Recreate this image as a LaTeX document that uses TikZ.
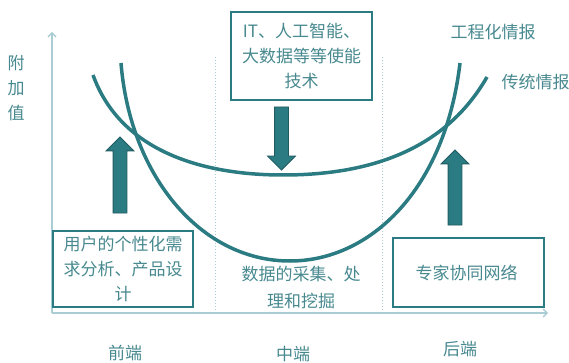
\documentclass[tikz,border=0pt]{standalone}
\usepackage{fontspec}
\setmainfont{Noto Sans CJK SC}
\usetikzlibrary{shapes.arrows,arrows.meta}
\definecolor{curveteal}{HTML}{2B7B82}
\definecolor{textteal}{HTML}{47898F}
\definecolor{axisteal}{HTML}{A9CDD2}
\def\cnfont{\fontsize{17}{25}\selectfont}

\begin{document}
\begin{tikzpicture}[x=1pt,y=-1pt,
		box/.style={draw=curveteal,line width=1.4pt,text=textteal,align=center,font=\cnfont,inner sep=0pt},
		lbl/.style={text=textteal,align=center,font=\cnfont},
		curve/.style={curveteal,line width=3.5pt},
		axis/.style={axisteal,line width=1.3pt,-{Straight Barb[length=4pt,width=8pt]}},
		divider/.style={axisteal,line width=1pt,dotted},
		blockarrow/.style={single arrow,draw=curveteal!75!black,fill=curveteal,line width=0.8pt,
			inner sep=6.5pt,outer sep=0pt,minimum width=27pt,single arrow head extend=7pt,anchor=tail}]
	\useasboundingbox (0,0) rectangle (569,363);

	% axes
	\coordinate (O) at (52,313);
	\coordinate (ytop) at (52,32);
	\coordinate (xend) at (548,313);
	\draw[axis] (O) -- (ytop);
	\draw[axis] (O) -- (xend);
	\node[lbl] (yl) at (16,88) {附\\加\\值};

	% stages
	\coordinate (d1top) at (215,57);
	\coordinate (d1bot) at (215,313);
	\coordinate (d2top) at (382,57);
	\coordinate (d2bot) at (382,313);
	\draw[divider] (d1top) -- (d1bot);
	\draw[divider] (d2top) -- (d2bot);
	\node[lbl] (front) at (125,353) {前端};
	\node[lbl] (middle) at (293,354) {中端};
	\node[lbl] (back) at (460,349) {后端};

	% traditional curve
	\coordinate (tA) at (93,75);
	\coordinate (tM) at (283,175);
	\coordinate (tB) at (487,77);
	\draw[curve] (tA) .. controls (120,150) and (200,175) .. (tM)
		.. controls (370,175) and (445,150) .. (tB);
	\node[lbl,anchor=west] (trad) at (498,82) {传统情报};

	% engineered curve
	\coordinate (eA) at (121,63);
	\coordinate (eM) at (290,261);
	\coordinate (eB) at (460,63);
	\draw[curve] (eA) .. controls (130,175) and (200,261) .. (eM)
		.. controls (370,261) and (445,190) .. (eB);
	\node[lbl] (eng) at (493,32) {工程化情报};

	% boxes
	\node[box,minimum width=141pt,minimum height=88pt] (tech) at (301.5,56) {
		IT、人工智能、\\
		大数据等等使能\\
		技术
	};
	\node[box,minimum width=140pt,minimum height=76pt] (user) at (123,269) {
		用户的个性化需\\
		求分析、产品设\\
		计
	};
	\node[box,minimum width=151pt,minimum height=69pt] (expert) at (468.5,272.5) {
		专家协同网络
	};
	\node[lbl,font=\fontsize{17}{27}\selectfont] (data) at (301,288) {
		数据的采集、处\\
		理和挖掘
	};

	% block arrows
	\node[blockarrow,rotate=90,minimum height=76pt] (upleft) at (120,213) {};
	\node[blockarrow,rotate=-90,minimum height=63pt] (down) at (281.5,107) {};
	\node[blockarrow,rotate=90,minimum height=75pt] (upright) at (455,225) {};
\end{tikzpicture}
\end{document}
